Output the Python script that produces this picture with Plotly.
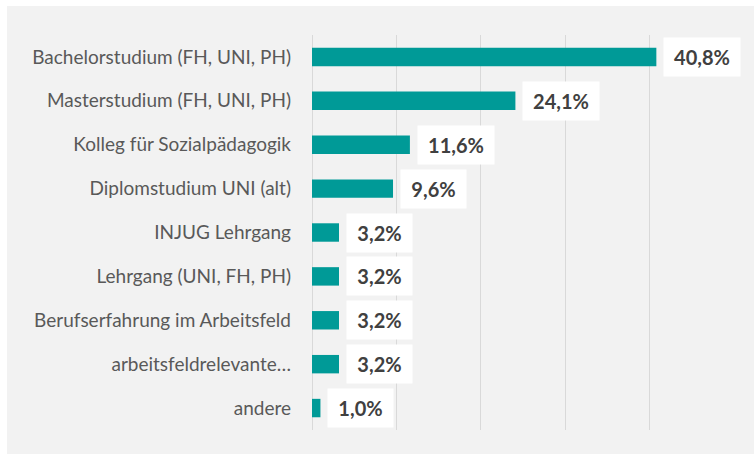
import plotly.graph_objects as go

categories = [
    "Bachelorstudium (FH, UNI, PH)",
    "Masterstudium (FH, UNI, PH)",
    "Kolleg für Sozialpädagogik",
    "Diplomstudium UNI (alt)",
    "INJUG Lehrgang",
    "Lehrgang (UNI, FH, PH)",
    "Berufserfahrung im Arbeitsfeld",
    "arbeitsfeldrelevante…",
    "andere",
]
values = [40.8, 24.1, 11.6, 9.6, 3.2, 3.2, 3.2, 3.2, 1.0]
value_labels = ["40,8%", "24,1%", "11,6%", "9,6%", "3,2%", "3,2%", "3,2%", "3,2%", "1,0%"]

W, H = 754, 454
ml, mr, mt, mb = 312, 20, 35, 24
pw, ph = W - ml - mr, H - mt - mb

fig = go.Figure(go.Bar(
    x=values, y=categories, orientation="h",
    marker=dict(color="#009A97", line=dict(width=0)),
    hoverinfo="skip",
))

for c, v, t in zip(categories, values, value_labels):
    fig.add_annotation(
        x=v, y=c, xref="x", yref="y", text="<b>%s</b>" % t,
        showarrow=False, xanchor="left", xshift=7,
        font=dict(family="Lato, sans-serif", size=20, color="#404040"),
        bgcolor="white", borderpad=6, width=round(11.5 * len(t) + 7), height=26,
        align="center",
    )

# light gray panel behind the chart
fig.add_shape(
    type="rect", xref="paper", yref="paper",
    x0=(7 - ml) / pw, x1=(W - ml) / pw,
    y0=(H - mb - H) / ph, y1=(H - mb - 6) / ph,
    fillcolor="#f2f2f2", line=dict(width=0), layer="below",
)

fig.update_layout(
    width=W, height=H,
    margin=dict(l=ml, r=mr, t=mt, b=mb),
    paper_bgcolor="white", plot_bgcolor="rgba(0,0,0,0)",
    bargap=0.58, showlegend=False,
    font=dict(family="Lato, sans-serif"),
)
fig.update_xaxes(
    range=[0, 50], dtick=10, showticklabels=False,
    showgrid=True, gridcolor="#d9d9d9", gridwidth=1,
    zeroline=True, zerolinecolor="#d9d9d9", zerolinewidth=1,
    showline=False, fixedrange=True,
)
fig.update_yaxes(
    autorange="reversed", showgrid=False, showline=False,
    tickfont=dict(family="Lato, sans-serif", size=19, color="#595959"),
    ticklabelstandoff=20, ticks="", fixedrange=True,
)

fig.write_html(
    "out.html",
    config={"displayModeBar": False},
    post_script="document.body.style.margin='0';document.body.style.overflow='hidden';",
)
